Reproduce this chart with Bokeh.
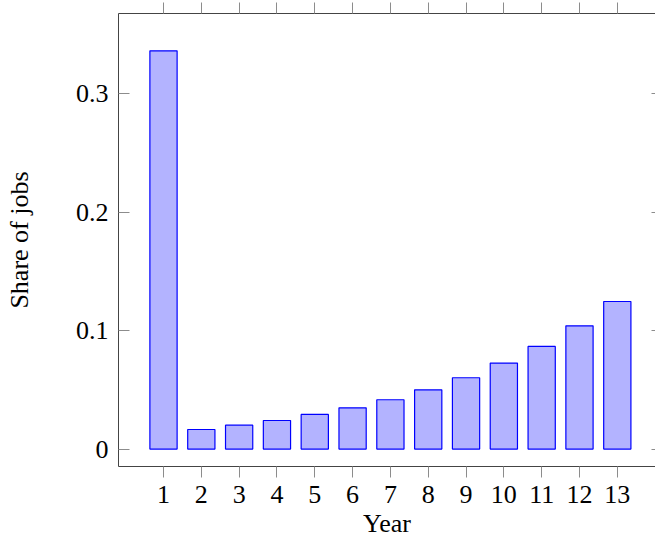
from bokeh.plotting import figure
from bokeh.models import LinearAxis, FixedTicker, Range1d, ColumnDataSource
from bokeh.embed import file_html
from bokeh.resources import INLINE

# Data
years = [1, 2, 3, 4, 5, 6, 7, 8, 9, 10, 11, 12, 13]
share = [0.336, 0.0165, 0.0202, 0.0241, 0.0292, 0.0348, 0.0416, 0.0500,
         0.0602, 0.0726, 0.0866, 0.1040, 0.1245]
y_ticks = [0, 0.1, 0.2, 0.3]
y_tick_labels = ["0", "0.1", "0.2", "0.3"]

FONT = "Liberation Serif"
FS = "26px"
AXC = "#444444"
TKC = "#8c8c8c"

src = ColumnDataSource(dict(x=years, top=share))

p = figure(frame_width=537, frame_height=453,
           min_border_left=118, min_border_right=0,
           min_border_top=13, min_border_bottom=74,
           x_range=Range1d(-0.19, 14.01), y_range=Range1d(-0.0147, 0.3675),
           output_backend="svg", toolbar_location=None,
           x_axis_location=None, y_axis_location=None)
p.outline_line_color = None
p.grid.visible = False
p.background_fill_color = "white"
p.border_fill_color = "white"

p.vbar(x="x", top="top", bottom=0, width=0.72, source=src,
       fill_color="#b3b3ff", line_color="#0000ff", line_width=1.2)

def style(ax):
    ax.axis_line_color = AXC
    ax.axis_line_width = 1
    ax.major_tick_line_color = TKC
    ax.major_tick_line_width = 1
    ax.minor_tick_line_color = None
    ax.major_label_text_font = FONT
    ax.major_label_text_font_size = FS
    ax.major_label_text_color = "black"
    ax.axis_label_text_font = FONT
    ax.axis_label_text_font_size = FS
    ax.axis_label_text_font_style = "normal"
    ax.axis_label_text_color = "black"

xb = LinearAxis(ticker=FixedTicker(ticks=years), axis_label="Year")
style(xb)
xb.major_tick_in = 0
xb.major_tick_out = 11
xb.major_label_standoff = 8
xb.axis_label_standoff = 3
p.add_layout(xb, "below")

xt = LinearAxis(ticker=FixedTicker(ticks=years))
style(xt)
xt.major_tick_in = 0
xt.major_tick_out = 11
xt.major_label_overrides = {t: "" for t in years}
xt.major_label_text_font_size = "1px"
xt.major_label_standoff = 0
p.add_layout(xt, "above")

yl = LinearAxis(ticker=FixedTicker(ticks=y_ticks), axis_label="Share of jobs")
style(yl)
yl.major_tick_in = 11
yl.major_tick_out = 0
yl.major_label_standoff = 10
yl.axis_label_standoff = 39
yl.major_label_overrides = {t: l for t, l in zip(y_ticks, y_tick_labels)}
p.add_layout(yl, "left")

yr = LinearAxis(ticker=FixedTicker(ticks=y_ticks))
style(yr)
yr.axis_line_color = None
yr.major_tick_in = 4
yr.major_tick_out = 0
yr.major_label_overrides = {t: "" for t in y_ticks}
yr.major_label_text_font_size = "1px"
yr.major_label_standoff = 0
p.add_layout(yr, "right")

open("out.html", "w").write(file_html(p, INLINE))
